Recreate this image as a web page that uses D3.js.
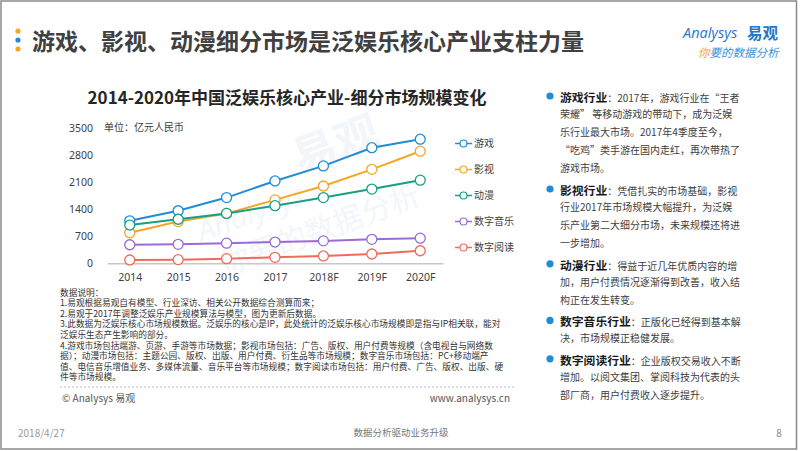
<!DOCTYPE html>
<html><head><meta charset="utf-8">
<script src="https://cdn.jsdelivr.net/npm/d3@7"></script>
<style>
html,body{margin:0;padding:0;background:#fff;}
svg{display:block;font-family:"Noto Sans CJK SC","Noto Sans",sans-serif;}
</style></head>
<body>
<svg id="c" width="802" height="451"></svg>
<script>
const years = ["2014","2015","2016","2017","2018F","2019F","2020F"];
const seriesNames = ["游戏","影视","动漫","数字音乐","数字阅读"];
const seriesColors = ["#1f8dd6","#f5a623","#17a083","#9b6bd8","#ef6b5b"];
const gameVals = [1100,1360,1700,2130,2520,2990,3210];
const filmVals = [790,1080,1290,1640,2000,2430,2900];
const animeVals = [990,1140,1290,1490,1700,1920,2150];
const musicVals = [480,490,520,550,580,620,650];
const readVals = [85,95,120,155,190,240,325];
const yTicks = [0,700,1400,2100,2800,3500];
const seriesValues = [gameVals,filmVals,animeVals,musicVals,readVals];

const pageTitle = "游戏、影视、动漫细分市场是泛娱乐核心产业支柱力量";
const chartTitle = "2014-2020年中国泛娱乐核心产业-细分市场规模变化";
const unitLabel = "单位：亿元人民币";
const noteLines = [
 "数据说明：",
 "1.易观根据易观自有模型、行业深访、相关公开数据综合测算而来；",
 "2.易观于2017年调整泛娱乐产业规模算法与模型，图为更新后数据。",
 "3.此数据为泛娱乐核心市场规模数据。泛娱乐的核心是IP，此处统计的泛娱乐核心市场规模即是指与IP相关联，能对",
 "泛娱乐生态产生影响的部分。",
 "4.游戏市场包括端游、页游、手游等市场数据；影视市场包括：广告、版权、用户付费等规模（含电视台与网络数",
 "据）；动漫市场包括：主题公园、版权、出版、用户付费、衍生品等市场规模；数字音乐市场包括：PC+移动端产",
 "值、电信音乐增值业务、多媒体流量、音乐平台等市场规模；数字阅读市场包括：用户付费、广告、版权、出版、硬",
 "件等市场规模。"
];
const bullets = [
 {head:"游戏行业", lines:["：2017年，游戏行业在“王者","荣耀” 等移动游戏的带动下，成为泛娱","乐行业最大市场。2017年4季度至今，","“吃鸡”类手游在国内走红，再次带热了","游戏市场。"]},
 {head:"影视行业", lines:["：凭借扎实的市场基础，影视","行业2017年市场规模大幅提升，为泛娱","乐产业第二大细分市场，未来规模还将进","一步增加。"]},
 {head:"动漫行业", lines:["：得益于近几年优质内容的增","加，用户付费情况逐渐得到改善，收入结","构正在发生转变。"]},
 {head:"数字音乐行业", lines:["：正版化已经得到基本解","决，市场规模正稳健发展。"]},
 {head:"数字阅读行业", lines:["：企业版权交易收入不断","增加。以阅文集团、掌阅科技为代表的头","部厂商，用户付费收入逐步提升。"]}
];

const svg = d3.select("#c");
const txt = "#404040";

// frame
svg.append("rect").attr("x",1).attr("y",1).attr("width",795.5).attr("height",448)
  .attr("fill","none").attr("stroke","#8a8a8a").attr("stroke-width",1.5);

// title dots
[["#f5a623",31],["#1f8dd6",40],["#f5a623",49]].forEach(d=>{
  svg.append("circle").attr("cx",18).attr("cy",d[1]).attr("r",2.6).attr("fill",d[0]);
});
svg.append("text").attr("x",32).attr("y",42).attr("dy","0.36em")
  .attr("font-size",23).attr("font-weight","bold").attr("fill","#404040").text(pageTitle);

// logo
const logo = svg.append("g");
logo.append("text").attr("x",683).attr("y",38).attr("font-size",14.5).attr("font-style","italic")
  .attr("fill","#1f78c8").attr("font-family","'Open Sans',sans-serif").text("Analysys");
logo.append("text").attr("x",747).attr("y",39).attr("font-size",15.5).attr("font-weight","bold")
  .attr("fill","#1f78c8").text("易观");
const slog = logo.append("text").attr("x",698).attr("y",57).attr("font-size",11.5).attr("font-style","italic");
slog.append("tspan").attr("fill","#f0a030").text("你");
slog.append("tspan").attr("fill","#3c8fd4").text("要的数据分析");

// watermark
const wm = svg.append("g").attr("transform","rotate(-20,300,190)").attr("fill","#edf3f9").attr("opacity",0.7);
wm.append("text").attr("x",305).attr("y",175).attr("font-size",44).attr("font-weight","bold").text("易观");
wm.append("text").attr("x",190).attr("y",205).attr("font-size",30).attr("font-style","italic").attr("font-family","'Open Sans',sans-serif").text("Analysys");
wm.append("text").attr("x",200).attr("y",245).attr("font-size",30).text("你要的数据分析");

// chart title
svg.append("text").attr("x",287).attr("y",98).attr("dy","0.36em").attr("text-anchor","middle")
  .attr("font-size",17).attr("font-weight","bold").attr("fill","#262626").text(chartTitle);
svg.append("text").attr("x",104).attr("y",127).attr("dy","0.36em")
  .attr("font-size",10).attr("fill",txt).text(unitLabel);

// scales
const x = d3.scalePoint().domain(years).range([107,443]).padding(0.47);
const y = d3.scaleLinear().domain([0,3500]).range([263.3,128]);

const ya = svg.append("g").attr("transform","translate(93,0)")
  .call(d3.axisLeft(y).tickValues(yTicks).tickSize(0).tickPadding(0).tickFormat(d3.format("d")));
ya.select(".domain").remove();
ya.selectAll("text").attr("font-size",10.5).attr("fill",txt).attr("font-family","'Noto Sans',sans-serif");

const xa = svg.append("g").attr("transform","translate(0,263.3)")
  .call(d3.axisBottom(x).tickSize(0).tickSizeOuter(0).tickPadding(10));
xa.select(".domain").attr("stroke","#c8c8c8").attr("stroke-width",1.5);
xa.selectAll("text").attr("font-size",10.5).attr("fill",txt).attr("font-family","'Noto Sans',sans-serif");

// lines
const line = d3.line().x((d,i)=>x(years[i])).y(d=>y(d));
seriesValues.forEach((vals,k)=>{
  const g = svg.append("g");
  g.append("path").datum(vals).attr("d",line).attr("fill","none")
    .attr("stroke",seriesColors[k]).attr("stroke-width",2);
  g.selectAll("circle").data(vals).join("circle")
    .attr("cx",(d,i)=>x(years[i])).attr("cy",d=>y(d)).attr("r",5)
    .attr("fill","#fff").attr("stroke",seriesColors[k]).attr("stroke-width",1.3);
});

// legend
seriesNames.forEach((n,k)=>{
  const ly = 143.5 + k*26;
  const g = svg.append("g");
  g.append("line").attr("x1",455).attr("x2",472).attr("y1",ly).attr("y2",ly)
    .attr("stroke",seriesColors[k]).attr("stroke-width",1.5);
  g.append("circle").attr("cx",463.5).attr("cy",ly).attr("r",3.5).attr("fill","#fff")
    .attr("stroke",seriesColors[k]).attr("stroke-width",1.2);
  g.append("text").attr("x",474).attr("y",ly).attr("dy","0.36em").attr("font-size",10)
    .attr("fill",txt).text(n);
});

// notes (one multi-line text block)
const notes = svg.append("text").attr("font-size",8.7).attr("fill","#333");
noteLines.forEach((l,i)=>{
  notes.append("tspan").attr("x",60).attr("y",292.5+i*10.6).attr("dy","0.36em").text(l);
});
svg.append("line").attr("x1",60).attr("x2",515).attr("y1",387).attr("y2",387)
  .attr("stroke","#bbb").attr("stroke-dasharray","2,2").attr("stroke-width",1);
svg.append("text").attr("x",62).attr("y",398.5).attr("dy","0.36em").attr("font-size",10)
  .attr("fill","#555").text("© Analysys 易观");
svg.append("text").attr("x",510).attr("y",398.5).attr("dy","0.36em").attr("text-anchor","end")
  .attr("font-size",10).attr("fill","#555").text("www.analysys.cn");

// right panel
let by = 96;
bullets.forEach((b,bi)=>{
  if (bi>0) by += 2;
  svg.append("circle").attr("cx",550).attr("cy",by).attr("r",3.6).attr("fill","#1f8dd6");
  b.lines.forEach((l,li)=>{
    const t = svg.append("text").attr("x",560).attr("y",by).attr("dy","0.36em").attr("fill","#404040");
    if (li===0) {
      t.append("tspan").attr("font-size",11.8).attr("font-weight","bold").attr("fill","#1a1a1a").text(b.head);
      t.append("tspan").attr("font-size",10).text(l);
    } else {
      t.attr("font-size",10).text(l);
    }
    by += 18.2;
  });
});

// footer
svg.append("text").attr("x",18).attr("y",433).attr("dy","0.36em").attr("font-size",10)
  .attr("fill","#999").text("2018/4/27");
svg.append("text").attr("x",401).attr("y",433).attr("dy","0.36em").attr("text-anchor","middle")
  .attr("font-size",9.5).attr("fill","#777").text("数据分析驱动业务升级");
svg.append("text").attr("x",779).attr("y",433).attr("dy","0.36em").attr("text-anchor","middle")
  .attr("font-size",10).attr("fill","#888").text("8");
</script>
</body></html>
